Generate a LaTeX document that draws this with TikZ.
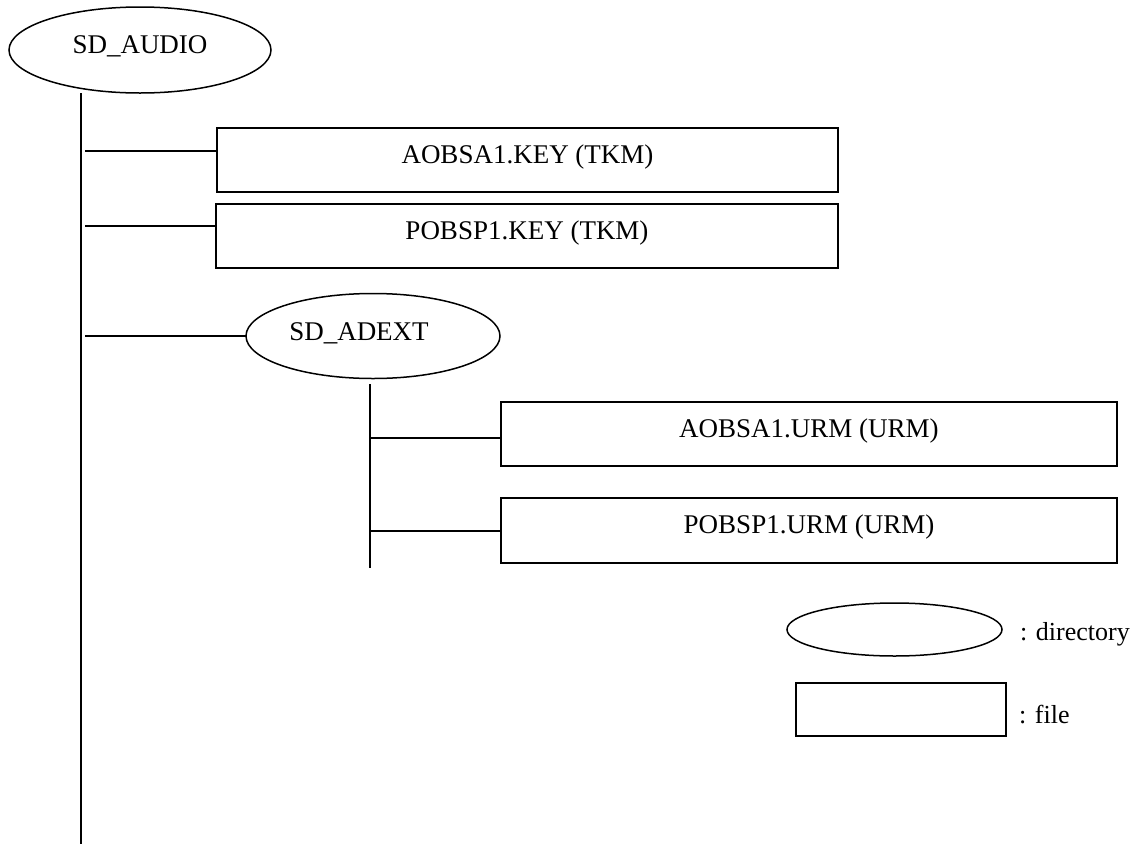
\documentclass[tikz,border=0pt]{standalone}
\usepackage{fontspec}
\setmainfont{Liberation Serif}
\usetikzlibrary{shapes.geometric}
\begin{document}
\begin{tikzpicture}[x=1pt,y=-1pt,
  every node/.style={font=\fontsize{27}{32}\selectfont, inner sep=0pt, outer sep=0pt},
  label text/.style={text height=18pt, text depth=12pt},
  legend text/.style={anchor=base west, font=\fontsize{26}{30}\selectfont},
  dirnode/.style={draw, ellipse, line width=1.5pt, label text},
  filenode/.style={draw, rectangle, line width=1.5pt, label text},
  link/.style={line width=1.5pt}]
\useasboundingbox (0,0) rectangle (1133,844);

% directories
\node[dirnode, minimum width=262pt, minimum height=86pt] (audio) at (140,50) {SD\_AUDIO};
\node[dirnode, minimum width=254pt, minimum height=85pt] (adext) at (373,336) {};
\node[label text] (adexttext) at (359,337) {SD\_ADEXT};

% files
\node[filenode, minimum width=621pt, minimum height=64pt] (akey) at (527.5,160) {AOBSA1.KEY (TKM)};
\node[filenode, minimum width=622pt, minimum height=64pt] (pkey) at (527,236) {POBSP1.KEY (TKM)};
\node[filenode, minimum width=616pt, minimum height=64pt] (aurm) at (809,434) {AOBSA1.URM (URM)};
\node[filenode, minimum width=616pt, minimum height=65pt] (purm) at (809,530.5) {POBSP1.URM (URM)};

% main trunk under SD_AUDIO
\coordinate (trunktop) at (81,93);
\coordinate (trunkend) at (81,844);
\draw[link] (trunktop) -- (trunkend);

\coordinate (b1) at (85,151);
\coordinate (b2) at (85,226);
\coordinate (b3) at (85,336);
\draw[link] (b1) -- (b1 -| akey.west);
\draw[link] (b2) -- (b2 -| pkey.west);
\draw[link] (b3) -- (adext.west);

% sub trunk under SD_ADEXT
\coordinate (subtop) at (370,384);
\coordinate (subend) at (370,568);
\draw[link] (subtop) -- (subend);

\coordinate (c1) at (370,438);
\coordinate (c2) at (370,531);
\draw[link] (c1) -- (c1 -| aurm.west);
\draw[link] (c2) -- (c2 -| purm.west);

% legend
\node[dirnode, minimum width=215pt, minimum height=53pt] (legdir) at (894.5,629.5) {};
\node[legend text] (legdirtext) at (1020,640) {: directory};
\node[filenode, minimum width=210pt, minimum height=53pt] (legfile) at (901,709.5) {};
\node[legend text] (legfiletext) at (1019,723) {: file};
\end{tikzpicture}
\end{document}
